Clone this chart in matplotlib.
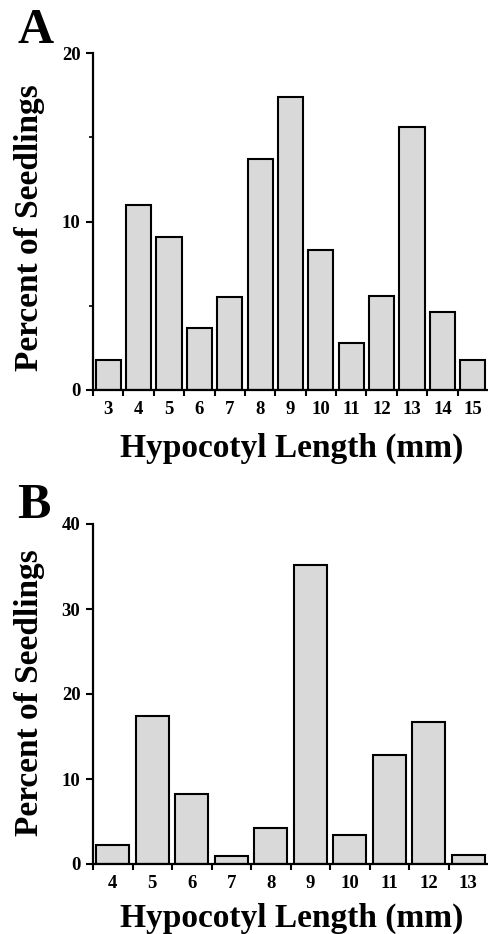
import matplotlib
matplotlib.use("Agg")
import matplotlib.pyplot as plt
from matplotlib.ticker import MultipleLocator, FixedLocator

# Data
lenA = [3, 4, 5, 6, 7, 8, 9, 10, 11, 12, 13, 14, 15]
pctA = [1.8, 11.0, 9.1, 3.7, 5.5, 13.7, 17.4, 8.3, 2.8, 5.6, 15.6, 4.6, 1.8]
lenB = [4, 5, 6, 7, 8, 9, 10, 11, 12, 13]
pctB = [2.2, 17.4, 8.2, 1.0, 4.2, 35.2, 3.4, 12.8, 16.7, 1.1]

plt.rcParams['font.family'] = ['Liberation Serif', 'DejaVu Serif']
plt.rcParams['font.weight'] = 'bold'

W, H = 489, 934
fig = plt.figure(figsize=(W / 100, H / 100), dpi=100)

def box(l, t, r, b):
    return [l / W, 1 - b / H, (r - l) / W, (b - t) / H]

def panel(ax, xs, ys, ymax, step, minor):
    ax.bar(xs, ys, width=0.83, color='#d9d9d9', edgecolor='black', linewidth=1.5)
    ax.set_xlim(xs[0] - 0.5, xs[-1] + 0.5)
    ax.set_ylim(0, ymax)
    for s in ['top', 'right']:
        ax.spines[s].set_visible(False)
    for s in ['left', 'bottom']:
        ax.spines[s].set_linewidth(1.6)
    ax.set_xticks(xs)
    ax.set_xticklabels([str(v) for v in xs])
    ax.xaxis.set_minor_locator(FixedLocator([v + 0.5 for v in xs[:-1]] + [xs[0] - 0.5]))
    ax.yaxis.set_major_locator(MultipleLocator(step))
    if minor:
        ax.yaxis.set_minor_locator(MultipleLocator(minor))
    ax.tick_params(axis='x', which='major', length=0, pad=8, labelsize=13.5)
    ax.tick_params(axis='x', which='minor', length=4, width=1.5, direction='out')
    ax.tick_params(axis='y', which='major', length=5, width=1.5, direction='out', labelsize=13.5, pad=4)
    ax.tick_params(axis='y', which='minor', length=3, width=1.2, direction='out')
    for lab in ax.get_xticklabels() + ax.get_yticklabels():
        lab.set_fontweight('bold')

axA = fig.add_axes(box(93, 53, 488, 390))
panel(axA, lenA, pctA, 20, 10, 5)
axB = fig.add_axes(box(93, 524, 488, 864))
panel(axB, lenB, pctB, 40, 10, None)

fig.text(17 / W, 1 - 8 / H, 'A', fontsize=36, fontweight='bold', ha='left', va='top')
fig.text(17 / W, 1 - 483 / H, 'B', fontsize=36, fontweight='bold', ha='left', va='top')

fig.text(30 / W, 1 - 228 / H, 'Percent of Seedlings', fontsize=24, fontweight='bold',
         rotation=90, ha='center', va='center')
fig.text(30 / W, 1 - 693 / H, 'Percent of Seedlings', fontsize=24, fontweight='bold',
         rotation=90, ha='center', va='center')
fig.text(292 / W, 1 - 433 / H, 'Hypocotyl Length (mm)', fontsize=24, fontweight='bold',
         ha='center', va='top')
fig.text(292 / W, 1 - 903 / H, 'Hypocotyl Length (mm)', fontsize=24, fontweight='bold',
         ha='center', va='top')

fig.savefig('out.png', dpi=100)
